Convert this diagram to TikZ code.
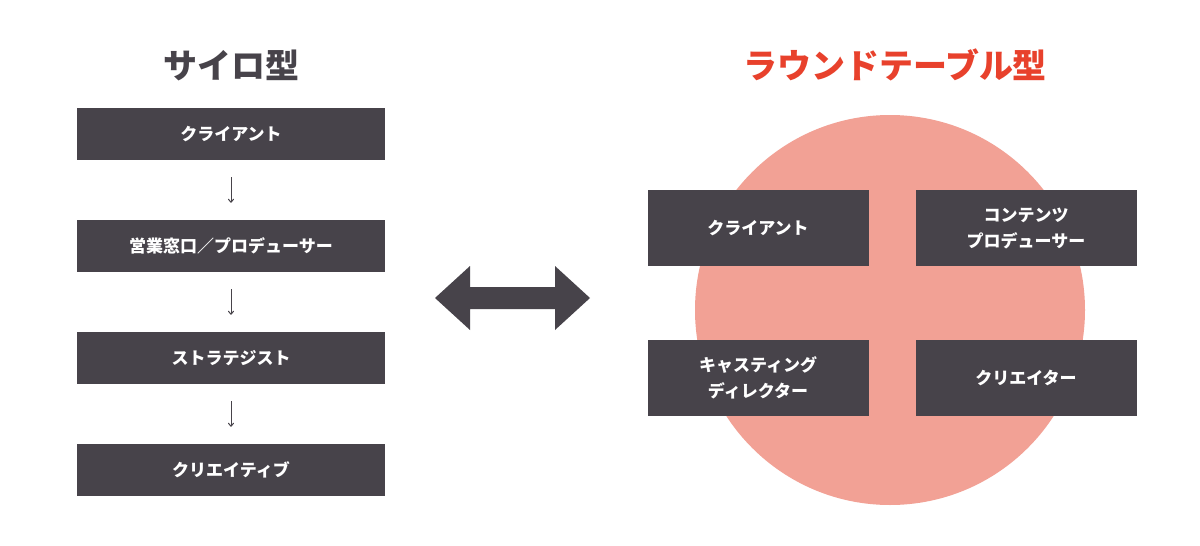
\documentclass[tikz,border=0pt]{standalone}
\usepackage{fontspec}
\usetikzlibrary{arrows.meta}
\newfontfamily\cjk{Noto Sans CJK JP}
\definecolor{boxc}{HTML}{47434A}
\definecolor{redt}{HTML}{E8412C}
\definecolor{circ}{HTML}{F2A195}
\begin{document}
\begin{tikzpicture}[x=1pt,y=-1pt,
  lbox/.style={fill=boxc,text=white,minimum width=308pt,minimum height=52pt,inner sep=0pt,font=\cjk\bfseries\fontsize{17}{20}\selectfont},
  rbox/.style={fill=boxc,text=white,minimum width=221pt,minimum height=76pt,inner sep=0pt,align=center,font=\cjk\bfseries\fontsize{17}{26}\selectfont},
  darr/.style={-{To[length=4pt,width=6pt]},boxc,line width=1pt}]
\useasboundingbox (0,0) rectangle (1200,546);
\fill[white] (0,0) rectangle (1200,546);
\node[text=boxc,font=\cjk\bfseries\fontsize{34}{40}\selectfont] (t1) at (231,65) {サイロ型};
\node[text=redt,font=\cjk\bfseries\fontsize{34}{40}\selectfont] (t2) at (895,65) {ラウンドテーブル型};
\node[lbox] (a) at (231,134) {クライアント};
\node[lbox] (b) at (231,246) {営業窓口／プロデューサー};
\node[lbox] (c) at (231,358) {ストラテジスト};
\node[lbox] (d) at (231,470) {クリエイティブ};
\draw[darr] ([yshift=-17pt]a.south) -- ([yshift=17pt]b.north);
\draw[darr] ([yshift=-17pt]b.south) -- ([yshift=17pt]c.north);
\draw[darr] ([yshift=-17pt]c.south) -- ([yshift=17pt]d.north);
\fill[boxc] (435,298) -- (470,266) -- (470,287) -- (555,287) -- (555,266) -- (590,298) -- (555,330) -- (555,309) -- (470,309) -- (470,330) -- cycle;
\fill[circ] (890,310) circle (195);
\node[rbox] (r1) at (758,228) {クライアント};
\node[rbox] (r2) at (1026,228) {コンテンツ\\プロデューサー};
\node[rbox] (r3) at (758,378) {キャスティング\\ディレクター};
\node[rbox] (r4) at (1026,378) {クリエイター};
\end{tikzpicture}
\end{document}
